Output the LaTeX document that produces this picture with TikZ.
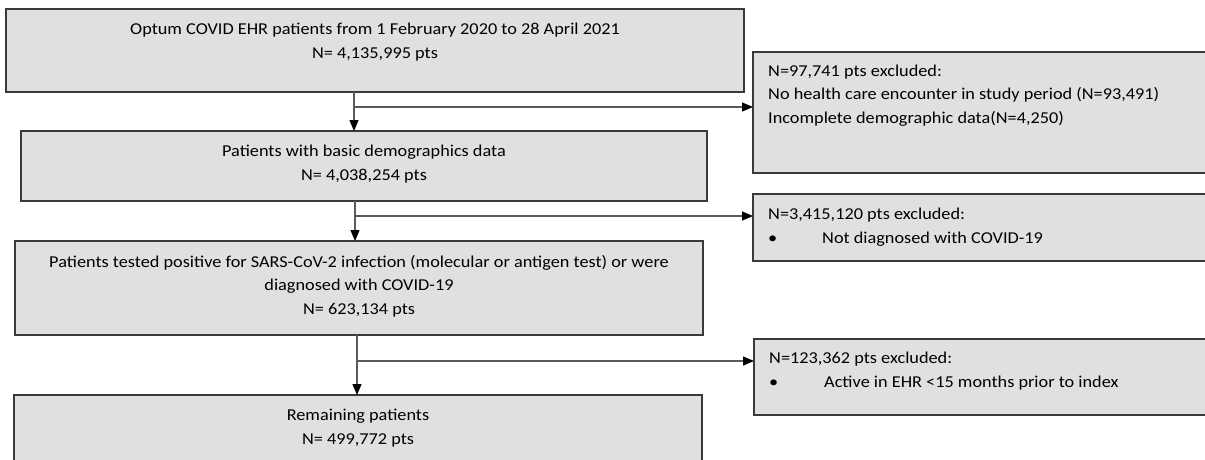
\documentclass[tikz,border=0pt]{standalone}
\usepackage{fontspec}
\setmainfont[FakeStretch=1.1]{Carlito}
\usetikzlibrary{arrows.meta}
\definecolor{boxfill}{HTML}{E0E0E0}
\definecolor{boxline}{HTML}{3A3A3A}
\definecolor{conn}{HTML}{5A5A5A}
\newcommand{\boxfont}{\fontsize{16.6}{23.5}\selectfont}
\begin{document}
\begin{tikzpicture}[x=1pt,y=-1pt,
  box/.style={draw=boxline, fill=boxfill, line width=1.3pt, inner sep=0pt, outer sep=0pt, anchor=north west},
  ctext/.style={align=center, inner sep=0pt, font=\boxfont, anchor=base},
  ltext/.style={align=left, inner sep=0pt, font=\boxfont, anchor=base west},
  arr/.style={draw=conn, line width=1.2pt, -{Triangle[length=11pt,width=9pt,fill=black,color=black]}}]
\clip (0,0) rectangle (1205,459);
\fill[white] (0,0) rectangle (1205,459);

% main boxes
\node[box, minimum width=738pt, minimum height=83pt] (b1) at (6,9) {};
\node[box, minimum width=686pt, minimum height=70pt] (b2) at (21,131) {};
\node[box, minimum width=688pt, minimum height=94pt] (b3) at (15,241) {};
\node[box, minimum width=688pt, minimum height=90pt] (b4) at (14,395) {};

% exclusion boxes
\node[box, minimum width=470pt, minimum height=121pt] (e1) at (753,52) {};
\node[box, minimum width=470pt, minimum height=67pt] (e2) at (753,194) {};
\node[box, minimum width=470pt, minimum height=76pt] (e3) at (754,339) {};

% texts (anchor = baseline of last line)
\node[ctext] (b1t) at (375,58) {Optum COVID EHR patients from 1 February 2020 to 28 April 2021\\N= 4,135,995 pts};
\node[ctext] (b2t) at (364,180) {Patients with basic demographics data\\N= 4,038,254 pts};
\node[ctext] (b3t) at (359,314) {Patients tested positive for SARS-CoV-2 infection (molecular or antigen test) or were\\diagnosed with COVID-19\\N= 623,134 pts};
\node[ctext] (b4t) at (358,444) {Remaining patients\\N= 499,772 pts};

\node[ltext] (e1t) at (768,123) {N=97,741 pts excluded:\\No health care encounter in study period (N=93,491)\\Incomplete demographic data(N=4,250)};
\node[ltext] (e2t) at (768,243) {N=3,415,120 pts excluded:\\\makebox[54pt][l]{\textbullet}Not diagnosed with COVID-19};
\node[ltext] (e3t) at (769,387) {N=123,362 pts excluded:\\\makebox[55pt][l]{\textbullet}Active in EHR <15 months prior to index};

% junctions
\coordinate (j1) at (354,107);
\coordinate (j2) at (355,216);
\coordinate (j3) at (357,361);

\draw[arr] (b1.south -| j1) -- (b2.north -| j1);
\draw[arr] (j1) -- (j1 -| e1.west);
\draw[arr] (b2.south -| j2) -- (b3.north -| j2);
\draw[arr] (j2) -- (j2 -| e2.west);
\draw[arr] (b3.south -| j3) -- (b4.north -| j3);
\draw[arr] (j3) -- (j3 -| e3.west);
\end{tikzpicture}
\end{document}
